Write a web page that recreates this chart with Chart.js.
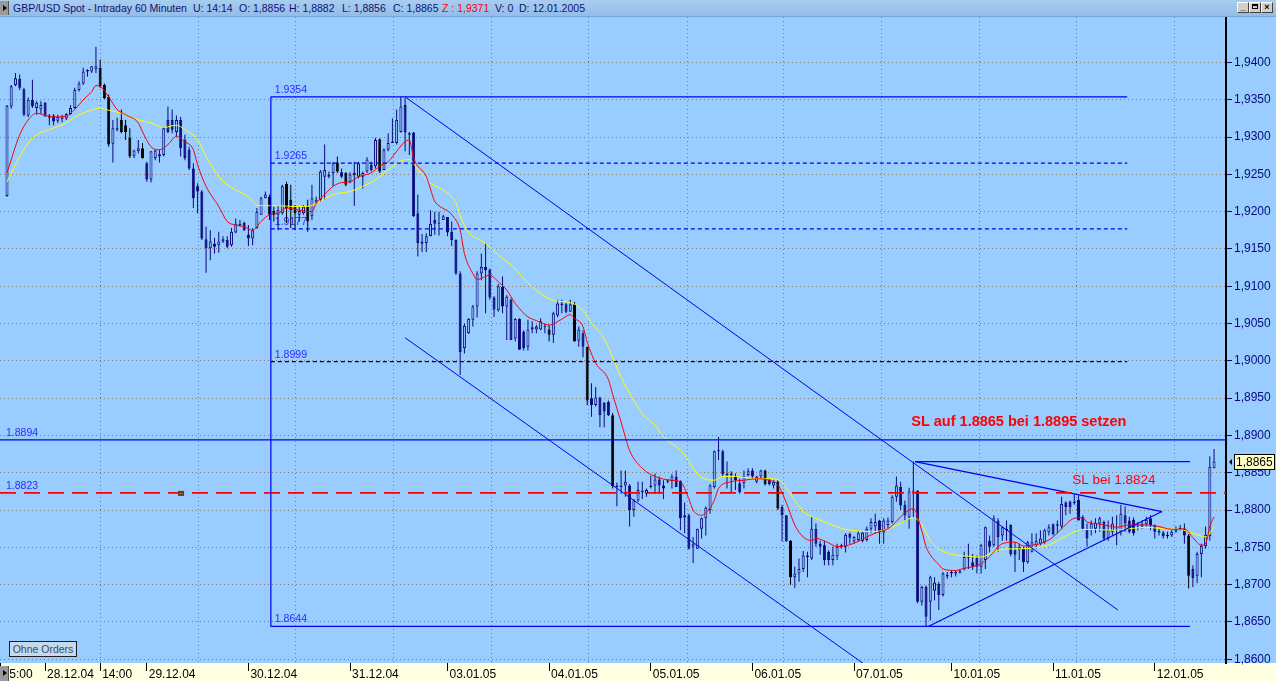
<!DOCTYPE html>
<html>
<head>
<meta charset="utf-8">
<script src="https://cdn.jsdelivr.net/npm/chart.js@4/dist/chart.umd.min.js"></script>
<style>
  body { margin: 0; background: #99ccff; overflow: hidden; }
  #wrap { position: relative; width: 1276px; height: 681px; }
  #c { position: absolute; left: 0; top: 0; }
  #tb { position: absolute; left: 0; top: 0; width: 1276px; height: 16px; background: linear-gradient(#a8cdf2, #93bce8); border-bottom: 1px solid #7da6d6; font: 10.5px Arial, "Liberation Sans", sans-serif; color: #12126e; z-index: 2; }
  #tb span { position: absolute; top: 2px; white-space: nowrap; }
  .tri { position: absolute; left: 0; width: 8px; height: 14px; background: #9a9a9a; border-right: 1px solid #555; }
  .tri:after { content: ""; position: absolute; left: 3px; top: 4px; border-left: 4px solid #000; border-top: 3px solid transparent; border-bottom: 3px solid transparent; }
  .wb { position: absolute; top: 2px; width: 10px; height: 9px; background: #d4d0c8; border: 1px solid; border-color: #fff #404040 #404040 #fff; font: bold 9px Arial, sans-serif; line-height: 9px; text-align: center; color: #000; }
  #orders { position: absolute; left: 9px; top: 641px; width: 66px; height: 14px; border: 1px solid #1e1e1e; background: #c4daee; font: 10.5px Arial, "Liberation Sans", sans-serif; color: #3a4c5e; line-height: 14px; text-align: center; z-index: 2; }
</style>
</head>
<body>
<div id="wrap">
  <canvas id="c" width="1276" height="681"></canvas>
  <div id="tb">
    <div class="tri" style="top:1px"></div>
    <span style="left:13px">GBP/USD Spot - Intraday 60 Minuten</span>
    <span style="left:193px">U: 14:14</span>
    <span style="left:239px">O: 1,8856</span>
    <span style="left:289px">H: 1,8882</span>
    <span style="left:342px">L: 1,8856</span>
    <span style="left:393px">C: 1,8865</span>
    <span style="left:442px;color:#ff0000">Z : 1,9371</span>
    <span style="left:495px">V: 0</span>
    <span style="left:519px">D: 12.01.2005</span>
    <div class="wb" style="left:1237px">_</div>
    <div class="wb" style="left:1249px"><div style="margin:1px auto 0;width:6px;height:5px;border:1px solid #000;border-top-width:2px;box-sizing:border-box"></div></div>
    <div class="wb" style="left:1261px">×</div>
  </div>
  <div class="tri" style="top:666px;z-index:2;height:15px"></div>
  <div id="orders">Ohne Orders</div>
</div>
<script>
// GBP/USD 60 min bars, 27.12.04 15:00 .. 12.01.05 14:00
const openP = [
  1.9221,1.9341,1.9370,1.9378,1.9364,1.9329,1.9350,1.9339,1.9337,1.9346,
  1.9329,1.9329,1.9322,1.9324,1.9325,1.9331,1.9339,1.9363,1.9372,1.9388,
  1.9388,1.9391,1.9393,1.9370,1.9354,1.9291,1.9312,1.9323,1.9316,1.9299,
  1.9275,1.9281,1.9285,1.9265,1.9243,1.9272,1.9274,1.9276,1.9323,1.9323,
  1.9307,1.9323,1.9296,1.9283,1.9258,1.9234,1.9227,1.9163,1.9151,1.9157,
  1.9155,1.9160,1.9162,1.9155,1.9172,1.9182,1.9185,1.9169,1.9164,1.9178,
  1.9196,1.9218,1.9220,1.9201,1.9196,1.9198,1.9237,1.9216,1.9207,1.9196,
  1.9198,1.9207,1.9194,1.9212,1.9216,1.9247,1.9250,1.9252,1.9266,1.9253,
  1.9252,1.9240,1.9249,1.9247,1.9247,1.9254,1.9263,1.9261,1.9297,1.9256,
  1.9283,1.9292,1.9292,1.9307,1.9343,1.9305,1.9306,1.9198,1.9160,1.9158,
  1.9167,1.9189,1.9185,1.9189,1.9193,1.9173,1.9162,1.9117,1.9017,1.9037,
  1.9055,1.9073,1.9117,1.9126,1.9122,1.9085,1.9068,1.9099,1.9073,1.9082,
  1.9030,1.9056,1.9039,1.9019,1.9045,1.9042,1.9042,1.9046,1.9042,1.9035,
  1.9061,1.9075,1.9076,1.9066,1.9076,1.9027,1.9037,1.9019,1.8950,1.8941,
  1.8951,1.8944,1.8945,1.8927,1.8833,1.8831,1.8833,1.8833,1.8800,1.8813,
  1.8824,1.8822,1.8831,1.8833,1.8841,1.8833,1.8840,1.8839,1.8845,1.8839,
  1.8793,1.8793,1.8751,1.8748,1.8775,1.8789,1.8800,1.8831,1.8879,1.8879,
  1.8849,1.8847,1.8845,1.8836,1.8836,1.8847,1.8853,1.8838,1.8845,1.8853,
  1.8841,1.8833,1.8838,1.8804,1.8793,1.8759,1.8710,1.8715,1.8721,1.8737,
  1.8735,1.8775,1.8755,1.8753,1.8744,1.8733,1.8738,1.8751,1.8751,1.8768,
  1.8758,1.8760,1.8759,1.8760,1.8775,1.8778,1.8786,1.8770,1.8780,1.8784,
  1.8818,1.8831,1.8807,1.8790,1.8825,1.8826,1.8677,1.8697,1.8677,1.8692,
  1.8701,1.8686,1.8713,1.8715,1.8717,1.8716,1.8721,1.8737,1.8730,1.8736,
  1.8724,1.8733,1.8759,1.8753,1.8786,1.8766,1.8775,1.8780,1.8746,1.8746,
  1.8748,1.8730,1.8744,1.8753,1.8755,1.8757,1.8770,1.8781,1.8779,1.8778,
  1.8810,1.8811,1.8809,1.8814,1.8791,1.8775,1.8773,1.8775,1.8782,1.8784,
  1.8762,1.8771,1.8775,1.8771,1.8793,1.8786,1.8787,1.8778,1.8778,1.8781,
  1.8789,1.8779,1.8772,1.8770,1.8765,1.8766,1.8771,1.8776,1.8775,1.8766,
  1.8721,1.8712,1.8741,1.8752,1.8765,1.8856
];
const highP = [
  1.9343,1.9370,1.9386,1.9384,1.9366,1.9353,1.9377,1.9348,1.9348,1.9347,
  1.9331,1.9331,1.9330,1.9330,1.9332,1.9343,1.9366,1.9375,1.9393,1.9391,
  1.9395,1.9421,1.9404,1.9372,1.9357,1.9323,1.9326,1.9337,1.9323,1.9312,
  1.9283,1.9296,1.9292,1.9267,1.9281,1.9283,1.9283,1.9314,1.9341,1.9337,
  1.9329,1.9327,1.9303,1.9287,1.9265,1.9238,1.9229,1.9180,1.9175,1.9165,
  1.9173,1.9167,1.9167,1.9178,1.9191,1.9189,1.9187,1.9182,1.9178,1.9205,
  1.9220,1.9227,1.9223,1.9207,1.9209,1.9236,1.9240,1.9236,1.9209,1.9207,
  1.9209,1.9216,1.9236,1.9220,1.9256,1.9290,1.9254,1.9267,1.9274,1.9258,
  1.9253,1.9253,1.9267,1.9267,1.9254,1.9273,1.9267,1.9299,1.9298,1.9285,
  1.9305,1.9325,1.9337,1.9354,1.9352,1.9307,1.9307,1.9223,1.9170,1.9171,
  1.9202,1.9200,1.9200,1.9196,1.9193,1.9187,1.9163,1.9120,1.9050,1.9057,
  1.9075,1.9120,1.9144,1.9158,1.9124,1.9087,1.9103,1.9113,1.9088,1.9084,
  1.9057,1.9057,1.9041,1.9055,1.9053,1.9048,1.9057,1.9050,1.9048,1.9066,
  1.9082,1.9082,1.9078,1.9082,1.9079,1.9046,1.9041,1.9019,1.8970,1.8965,
  1.8952,1.8945,1.8947,1.8930,1.8837,1.8853,1.8853,1.8835,1.8815,1.8838,
  1.8838,1.8829,1.8846,1.8849,1.8845,1.8840,1.8841,1.8848,1.8853,1.8840,
  1.8810,1.8795,1.8764,1.8775,1.8790,1.8805,1.8835,1.8880,1.8898,1.8881,
  1.8865,1.8852,1.8849,1.8842,1.8853,1.8856,1.8856,1.8846,1.8854,1.8854,
  1.8842,1.8840,1.8840,1.8807,1.8793,1.8760,1.8724,1.8735,1.8745,1.8744,
  1.8791,1.8782,1.8759,1.8759,1.8746,1.8751,1.8755,1.8755,1.8769,1.8770,
  1.8765,1.8772,1.8772,1.8778,1.8789,1.8795,1.8787,1.8789,1.8790,1.8820,
  1.8845,1.8838,1.8813,1.8830,1.8865,1.8827,1.8699,1.8699,1.8712,1.8710,
  1.8704,1.8717,1.8717,1.8719,1.8719,1.8721,1.8744,1.8755,1.8741,1.8739,
  1.8755,1.8778,1.8766,1.8793,1.8789,1.8778,1.8786,1.8781,1.8757,1.8755,
  1.8751,1.8759,1.8769,1.8769,1.8773,1.8775,1.8781,1.8782,1.8786,1.8818,
  1.8812,1.8813,1.8821,1.8820,1.8793,1.8782,1.8786,1.8789,1.8791,1.8786,
  1.8786,1.8791,1.8793,1.8807,1.8805,1.8791,1.8790,1.8784,1.8786,1.8791,
  1.8793,1.8781,1.8775,1.8772,1.8771,1.8773,1.8778,1.8780,1.8782,1.8768,
  1.8726,1.8744,1.8755,1.8778,1.8872,1.8882
];
const lowP = [
  1.9220,1.9338,1.9368,1.9363,1.9328,1.9327,1.9339,1.9330,1.9331,1.9327,
  1.9316,1.9316,1.9319,1.9320,1.9323,1.9330,1.9338,1.9361,1.9370,1.9381,
  1.9386,1.9386,1.9366,1.9351,1.9287,1.9266,1.9308,1.9305,1.9296,1.9272,
  1.9272,1.9278,1.9271,1.9240,1.9239,1.9269,1.9266,1.9274,1.9305,1.9305,
  1.9301,1.9274,1.9269,1.9256,1.9205,1.9198,1.9162,1.9118,1.9135,1.9144,
  1.9145,1.9158,1.9151,1.9153,1.9171,1.9180,1.9174,1.9154,1.9155,1.9177,
  1.9196,1.9218,1.9189,1.9187,1.9175,1.9196,1.9185,1.9178,1.9175,1.9187,
  1.9196,1.9173,1.9189,1.9211,1.9213,1.9216,1.9245,1.9234,1.9252,1.9245,
  1.9234,1.9238,1.9208,1.9245,1.9231,1.9252,1.9254,1.9258,1.9252,1.9256,
  1.9281,1.9292,1.9290,1.9306,1.9281,1.9276,1.9193,1.9140,1.9146,1.9146,
  1.9167,1.9169,1.9168,1.9189,1.9167,1.9154,1.9115,1.8981,1.9010,1.9036,
  1.9046,1.9058,1.9108,1.9064,1.9082,1.9059,1.9066,1.9064,1.9028,1.9028,
  1.9026,1.9015,1.9014,1.9014,1.9037,1.9037,1.9041,1.9037,1.9026,1.9024,
  1.9059,1.9064,1.9064,1.9066,1.9026,1.9019,1.9005,1.8941,1.8925,1.8939,
  1.8911,1.8911,1.8926,1.8829,1.8805,1.8822,1.8818,1.8778,1.8791,1.8811,
  1.8815,1.8818,1.8829,1.8822,1.8822,1.8815,1.8836,1.8829,1.8831,1.8773,
  1.8769,1.8747,1.8729,1.8748,1.8762,1.8766,1.8795,1.8829,1.8867,1.8845,
  1.8829,1.8824,1.8827,1.8822,1.8829,1.8845,1.8842,1.8836,1.8842,1.8833,
  1.8833,1.8829,1.8800,1.8758,1.8758,1.8700,1.8696,1.8704,1.8717,1.8710,
  1.8733,1.8751,1.8740,1.8726,1.8726,1.8726,1.8733,1.8748,1.8743,1.8755,
  1.8755,1.8758,1.8757,1.8758,1.8769,1.8769,1.8755,1.8755,1.8775,1.8782,
  1.8811,1.8800,1.8786,1.8775,1.8790,1.8675,1.8672,1.8644,1.8652,1.8679,
  1.8666,1.8684,1.8708,1.8710,1.8711,1.8715,1.8719,1.8721,1.8720,1.8715,
  1.8715,1.8721,1.8743,1.8751,1.8744,1.8759,1.8759,1.8738,1.8717,1.8733,
  1.8717,1.8728,1.8743,1.8748,1.8753,1.8755,1.8766,1.8766,1.8769,1.8775,
  1.8793,1.8795,1.8807,1.8786,1.8773,1.8751,1.8766,1.8769,1.8771,1.8759,
  1.8759,1.8766,1.8753,1.8766,1.8771,1.8769,1.8766,1.8773,1.8775,1.8778,
  1.8773,1.8762,1.8766,1.8762,1.8762,1.8764,1.8770,1.8773,1.8755,1.8695,
  1.8697,1.8702,1.8710,1.8748,1.8759,1.8856
];
const closeP = [
  1.9342,1.9368,1.9379,1.9366,1.9330,1.9350,1.9341,1.9346,1.9343,1.9328,
  1.9326,1.9321,1.9327,1.9328,1.9331,1.9339,1.9363,1.9372,1.9388,1.9390,
  1.9395,1.9395,1.9368,1.9352,1.9290,1.9312,1.9310,1.9307,1.9307,1.9274,
  1.9282,1.9285,1.9272,1.9243,1.9281,1.9282,1.9277,1.9312,1.9307,1.9310,
  1.9323,1.9285,1.9272,1.9258,1.9218,1.9227,1.9164,1.9151,1.9160,1.9153,
  1.9160,1.9163,1.9153,1.9173,1.9184,1.9184,1.9175,1.9164,1.9175,1.9200,
  1.9218,1.9223,1.9196,1.9196,1.9202,1.9234,1.9205,1.9202,1.9198,1.9201,
  1.9207,1.9187,1.9218,1.9216,1.9254,1.9256,1.9247,1.9265,1.9254,1.9247,
  1.9236,1.9250,1.9252,1.9265,1.9252,1.9270,1.9256,1.9296,1.9254,1.9283,
  1.9292,1.9294,1.9323,1.9341,1.9306,1.9303,1.9194,1.9158,1.9157,1.9167,
  1.9184,1.9184,1.9184,1.9194,1.9172,1.9162,1.9117,1.9012,1.9047,1.9056,
  1.9073,1.9117,1.9126,1.9122,1.9085,1.9069,1.9100,1.9073,1.9086,1.9028,
  1.9056,1.9015,1.9017,1.9042,1.9042,1.9046,1.9053,1.9045,1.9035,1.9064,
  1.9077,1.9077,1.9066,1.9076,1.9026,1.9042,1.9019,1.8947,1.8941,1.8951,
  1.8927,1.8932,1.8927,1.8832,1.8831,1.8833,1.8838,1.8800,1.8813,1.8827,
  1.8826,1.8827,1.8833,1.8841,1.8833,1.8829,1.8838,1.8845,1.8831,1.8789,
  1.8790,1.8748,1.8755,1.8775,1.8789,1.8803,1.8833,1.8879,1.8880,1.8848,
  1.8847,1.8849,1.8840,1.8824,1.8845,1.8852,1.8845,1.8845,1.8853,1.8835,
  1.8835,1.8838,1.8802,1.8793,1.8758,1.8710,1.8715,1.8721,1.8739,1.8739,
  1.8775,1.8755,1.8751,1.8733,1.8733,1.8740,1.8751,1.8753,1.8767,1.8763,
  1.8764,1.8769,1.8770,1.8775,1.8784,1.8784,1.8770,1.8786,1.8786,1.8818,
  1.8833,1.8806,1.8793,1.8825,1.8826,1.8677,1.8697,1.8657,1.8710,1.8703,
  1.8686,1.8715,1.8711,1.8717,1.8715,1.8718,1.8737,1.8736,1.8724,1.8724,
  1.8753,1.8777,1.8751,1.8789,1.8764,1.8777,1.8773,1.8741,1.8740,1.8751,
  1.8730,1.8757,1.8757,1.8759,1.8762,1.8773,1.8777,1.8768,1.8781,1.8808,
  1.8804,1.8804,1.8811,1.8786,1.8775,1.8762,1.8782,1.8783,1.8789,1.8762,
  1.8773,1.8782,1.8773,1.8795,1.8782,1.8771,1.8769,1.8779,1.8782,1.8787,
  1.8780,1.8771,1.8770,1.8765,1.8767,1.8771,1.8773,1.8773,1.8766,1.8712,
  1.8709,1.8741,1.8752,1.8767,1.8858,1.8865
];

// moving averages (bar index -> value)
const redIdx = [0,3,5,7,9,11,14,16,18,20,21,22,24,26,28,31,32,34,36,38,40,42,44,45,47,50,52,54,56,58,
  60,62,64,66,69,72,73,75,77,79,81,83,86,88,90,92,94,95,96,99,101,102,105,107,108,110,111,114,116,118,
  120,123,125,128,131,133,134,136,137,139,142,143,145,147,150,153,157,159,161,162,164,166,167,168,171,174,177,180,182,184,
  186,188,190,191,194,196,198,201,203,205,208,209,211,213,214,216,217,218,220,221,224,226,228,231,233,235,238,240,242,245,
  247,249,252,254,255,257,260,262,265,267,269,272,274,276,278,280,282,283,284,285];
const redVal = [1.9252,1.9303,1.9323,1.9332,1.9329,1.9327,1.9328,1.9337,1.9350,1.9361,1.9369,1.9368,1.9354,1.9337,1.9330,1.9319,1.9307,1.9287,1.9283,1.9290,1.9301,1.9294,1.9283,1.9263,1.9234,1.9207,1.9187,1.9182,1.9180,1.9175,
  1.9187,1.9196,1.9198,1.9205,1.9202,1.9200,1.9211,1.9223,1.9234,1.9239,1.9240,1.9247,1.9252,1.9261,1.9267,1.9281,1.9294,1.9296,1.9272,1.9247,1.9214,1.9208,1.9196,1.9175,1.9144,1.9117,1.9109,1.9115,1.9106,1.9095,
  1.9077,1.9059,1.9054,1.9048,1.9056,1.9062,1.9057,1.9046,1.9025,1.8997,1.8975,1.8955,1.8918,1.8880,1.8856,1.8845,1.8840,1.8838,1.8815,1.8800,1.8793,1.8803,1.8813,1.8829,1.8838,1.8840,1.8842,1.8840,1.8834,1.8810,
  1.8780,1.8764,1.8759,1.8762,1.8756,1.8751,1.8752,1.8758,1.8764,1.8769,1.8775,1.8779,1.8791,1.8800,1.8802,1.8772,1.8751,1.8740,1.8727,1.8721,1.8719,1.8722,1.8724,1.8732,1.8744,1.8755,1.8757,1.8752,1.8753,1.8757,
  1.8764,1.8775,1.8789,1.8790,1.8784,1.8782,1.8779,1.8777,1.8780,1.8780,1.8780,1.8778,1.8775,1.8774,1.8775,1.8763,1.8753,1.8755,1.8778,1.8791];
const yelIdx = [0,3,5,7,10,14,17,20,22,24,27,31,34,37,40,42,45,47,50,53,57,59,61,64,68,71,73,77,81,84,
  87,90,93,95,97,100,103,106,107,109,112,114,116,120,123,126,129,132,134,136,138,141,143,145,148,150,153,155,158,160,
  162,164,167,169,172,175,179,181,183,186,188,191,194,198,201,204,207,209,211,214,216,218,220,223,227,230,233,236,239,242,
  246,249,252,254,257,261,265,269,273,277,280,283,284,285];
const yelVal = [1.9240,1.9274,1.9292,1.9303,1.9310,1.9319,1.9330,1.9336,1.9339,1.9336,1.9332,1.9323,1.9319,1.9313,1.9316,1.9310,1.9296,1.9274,1.9247,1.9232,1.9220,1.9209,1.9208,1.9208,1.9207,1.9207,1.9211,1.9223,1.9227,1.9234,
  1.9243,1.9256,1.9268,1.9270,1.9256,1.9238,1.9229,1.9212,1.9195,1.9172,1.9161,1.9153,1.9142,1.9124,1.9104,1.9090,1.9081,1.9079,1.9076,1.9068,1.9051,1.9030,1.9005,1.8978,1.8947,1.8929,1.8914,1.8898,1.8885,1.8874,
  1.8856,1.8844,1.8840,1.8845,1.8845,1.8843,1.8842,1.8842,1.8837,1.8813,1.8798,1.8789,1.8782,1.8774,1.8772,1.8771,1.8773,1.8777,1.8782,1.8790,1.8780,1.8759,1.8748,1.8741,1.8738,1.8737,1.8744,1.8748,1.8748,1.8749,
  1.8753,1.8762,1.8771,1.8774,1.8774,1.8773,1.8775,1.8777,1.8775,1.8774,1.8769,1.8764,1.8769,1.8778];

// axis labels
const dayTickIdx = [-1.5, 9, 22, 33, 57, 81, 104, 128, 152, 176, 200, 223, 247, 271];
const dayTickLabels = ['15:00','28.12.04','14:00','29.12.04','30.12.04','31.12.04','03.01.05','04.01.05','05.01.05','06.01.05','07.01.05','10.01.05','11.01.05','12.01.05'];
const priceTicks = [1.860,1.865,1.870,1.875,1.880,1.885,1.890,1.895,1.900,1.905,1.910,1.915,1.920,1.925,1.930,1.935,1.940];
const gridIdx = [21.96,45.10,68.00,91.15,114.29,137.19,160.57,183.24,206.38,229.52,252.42,275.56];

// drawn objects (bar index, price)
const fibLevels = [1.9354, 1.9265, 1.9177, 1.8999, 1.8644];
const fibStart = 62.3, fibEnd = 264.5, fibLowEnd = 279.3;
const slLevels = [1.8894, 1.8823];
const channelTop = [[94, 1.9354], [262.3, 1.8666]];
const channelLow = [[94, 1.9031], [205, 1.8583]];
const triangle = { apex: [214.4, 1.8865], tip: [272.7, 1.8798], base: [217.5, 1.8644], flatEnd: 279.3 };

const X_MIN = -1.653, X_MAX = 287.82, Y_MIN = 1.8595, Y_MAX = 1.94610;
const NAVY = '#0a0a7c', BLACK = '#000000', PLOT_BG = '#99ccff', BAND = '#ffffe1', BLUE = '#0000f0';
const blackBodies = new Set([22,23,24,27,28,29,32,62,63,66,67,68,71,78,80,88,128,134,137,143,179,182,185,279]);

const idx = closeP.map((_, i) => i);
const isUp = i => closeP[i] >= openP[i];
const bodyCol = i => blackBodies.has(i) ? BLACK : NAVY;

function seg(points, color, width, dash) {
  return { type: 'line', data: points.map(p => ({ x: p[0], y: p[1] })), borderColor: color, borderWidth: width,
    borderDash: dash || [], pointRadius: 0, tension: 0, order: 0, xAxisID: 'x', yAxisID: 'y' };
}

const datasets = [
  { type: 'bar', data: idx.map(i => ({ x: i, y: [lowP[i], highP[i]] })), backgroundColor: idx.map(bodyCol),
    maxBarThickness: 1, grouped: false, inflateAmount: 0, borderWidth: 0, order: 4, xAxisID: 'x', yAxisID: 'y' },
  { type: 'bar', data: idx.map(i => ({ x: i, y: [Math.min(openP[i], closeP[i]), Math.max(openP[i], closeP[i])] })),
    backgroundColor: idx.map(i => isUp(i) ? PLOT_BG : bodyCol(i)), borderColor: idx.map(bodyCol), borderWidth: 1,
    borderSkipped: false, minBarLength: 1, maxBarThickness: 3, grouped: false, inflateAmount: 0, order: 3, xAxisID: 'x', yAxisID: 'y' },
  { type: 'line', data: yelIdx.map((x, k) => ({ x, y: yelVal[k] })), borderColor: '#ffff00', borderWidth: 1, pointRadius: 0,
    cubicInterpolationMode: 'monotone', order: 2, xAxisID: 'x', yAxisID: 'y' },
  { type: 'line', data: redIdx.map((x, k) => ({ x, y: redVal[k] })), borderColor: '#ff0000', borderWidth: 1, pointRadius: 0,
    cubicInterpolationMode: 'monotone', order: 1, xAxisID: 'x', yAxisID: 'y' },
  seg([[fibStart, fibLevels[0]], [fibEnd, fibLevels[0]]], BLUE, 1.2),
  seg([[fibStart, fibLevels[1]], [fibEnd, fibLevels[1]]], BLUE, 1.3, [4, 3]),
  seg([[fibStart, fibLevels[2]], [fibEnd, fibLevels[2]]], BLUE, 1.3, [4, 3]),
  seg([[fibStart, fibLevels[3]], [fibEnd, fibLevels[3]]], '#000060', 1.3, [4, 3]),
  seg([[fibStart, fibLevels[4]], [fibLowEnd, fibLevels[4]]], BLUE, 1.2),
  seg([[fibStart, fibLevels[0]], [fibStart, fibLevels[4]]], BLUE, 1.2),
  seg([[X_MIN, slLevels[0]], [X_MAX, slLevels[0]]], BLUE, 1.2),
  seg([[X_MIN, slLevels[1]], [X_MAX, slLevels[1]]], '#ff0000', 1.8, [16, 8]),
  seg(channelTop, BLUE, 1),
  seg(channelLow, BLUE, 1),
  seg([triangle.apex, [triangle.flatEnd, triangle.apex[1]]], BLUE, 1.2),
  seg([triangle.apex, triangle.tip], BLUE, 1.2),
  seg([triangle.base, triangle.tip], BLUE, 1.2)
];

const bgPlugin = {
  id: 'bg',
  beforeDraw(c) {
    const { ctx, chartArea: a, width, height } = c;
    ctx.save();
    ctx.fillStyle = PLOT_BG;
    ctx.fillRect(0, 0, width, height);
    ctx.fillStyle = BAND;
    ctx.fillRect(0, a.bottom, width, height - a.bottom);
    ctx.restore();
  }
};

const notes = {
  id: 'notes',
  beforeDatasetsDraw(c) {
    const { ctx, scales: { x, y } } = c;
    ctx.save();
    ctx.font = '10.5px Arial, "Liberation Sans", sans-serif';
    ctx.fillStyle = '#2c2cff';
    ctx.textBaseline = 'alphabetic';
    fibLevels.forEach(v => ctx.fillText(v.toFixed(4), x.getPixelForValue(fibStart) + 4, y.getPixelForValue(v) - 4));
    slLevels.forEach(v => ctx.fillText(v.toFixed(4), x.left + 6, y.getPixelForValue(v) - 4));
    ctx.restore();
  },
  afterDatasetsDraw(c) {
    const { ctx, scales: { x, y } } = c;
    ctx.save();
    ctx.fillStyle = '#ff0000';
    ctx.font = 'bold 14.5px Arial, "Liberation Sans", sans-serif';
    ctx.fillText('SL auf 1.8865 bei 1.8895 setzen', x.getPixelForValue(213.5), y.getPixelForValue(1.89127));
    ctx.font = '13.5px Arial, "Liberation Sans", sans-serif';
    ctx.fillText('SL bei 1.8824', x.getPixelForValue(251.5), y.getPixelForValue(1.8835));
    // small order marker on the SL line
    const mx = x.getPixelForValue(41.1), my = y.getPixelForValue(slLevels[1]);
    ctx.fillStyle = '#6b3a14';
    ctx.fillRect(mx - 3, my - 2, 6, 5);
    ctx.fillStyle = '#2f9a4a';
    ctx.fillRect(mx - 2, my, 4, 1);
    ctx.restore();
  },
  afterDraw(c) {
    const { ctx, chartArea: a, scales: { y } } = c;
    const last = closeP[closeP.length - 1];
    const py = Math.round(y.getPixelForValue(last));
    ctx.save();
    ctx.fillStyle = '#ffffc8';
    ctx.fillRect(a.right + 8, py - 8, 41, 16);
    ctx.strokeStyle = '#000';
    ctx.lineWidth = 1;
    ctx.strokeRect(a.right + 8.5, py - 7.5, 40, 15);
    ctx.fillStyle = '#000';
    ctx.font = '12px Arial, "Liberation Sans", sans-serif';
    ctx.textBaseline = 'middle';
    ctx.fillText(last.toFixed(4).replace('.', ','), a.right + 10, py + 1);
    ctx.beginPath();
    ctx.moveTo(a.right + 3, py);
    ctx.lineTo(a.right + 6, py - 3);
    ctx.lineTo(a.right + 6, py + 3);
    ctx.closePath();
    ctx.fill();
    ctx.restore();
  }
};

new Chart(document.getElementById('c'), {
  type: 'bar',
  data: { datasets },
  options: {
    responsive: false,
    animation: false,
    devicePixelRatio: 1,
    events: [],
    layout: { padding: { top: 17, left: 0, right: 0, bottom: 0 } },
    plugins: { legend: { display: false }, tooltip: { enabled: false } },
    scales: {
      x: {
        type: 'linear', position: 'bottom', min: X_MIN, max: X_MAX, offset: false,
        afterBuildTicks: s => { s.ticks = dayTickIdx.map(v => ({ value: v })); },
        afterFit: s => { s.height = 18; },
        ticks: { autoSkip: false, maxRotation: 0, minRotation: 0, align: 'start', labelOffset: 2, padding: -4,
          color: '#000', font: { family: 'Arial, "Liberation Sans", sans-serif', size: 12 },
          callback: (v, i) => dayTickLabels[i] },
        grid: { offset: false, drawOnChartArea: false, drawTicks: true, tickLength: 8, tickColor: '#000', tickWidth: 1 },
        border: { display: false }
      },
      xg: {
        type: 'linear', position: 'bottom', weight: 10, min: X_MIN, max: X_MAX, offset: false,
        afterBuildTicks: s => { s.ticks = gridIdx.map(v => ({ value: v })); },
        afterFit: s => { s.height = 0; },
        ticks: { display: false },
        grid: { offset: false, drawOnChartArea: true, drawTicks: false, color: '#857b70', lineWidth: 1 },
        border: { display: false, dash: [1, 3] }
      },
      y: {
        type: 'linear', position: 'right', min: Y_MIN, max: Y_MAX,
        afterBuildTicks: s => { s.ticks = priceTicks.map(v => ({ value: v })); },
        afterFit: s => { s.width = 50; },
        ticks: { color: '#0a0a80', padding: 2, font: { family: 'Arial, "Liberation Sans", sans-serif', size: 12 },
          callback: v => v.toFixed(4).replace('.', ',') },
        grid: { drawOnChartArea: true, drawTicks: true, tickLength: 6, color: '#857b70', tickColor: '#0a0a80', lineWidth: 1 },
        border: { display: true, color: '#000', width: 2, dash: [1, 3] }
      }
    }
  },
  plugins: [bgPlugin, notes]
});
</script>
</body>
</html>
